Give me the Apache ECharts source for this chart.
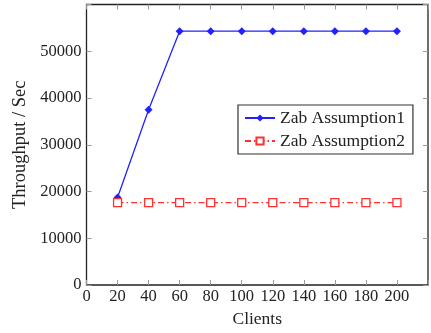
<!DOCTYPE html>
<html><head><meta charset="utf-8">
<script src="https://cdn.jsdelivr.net/npm/echarts@6/dist/echarts.min.js"></script>
<style>html,body{margin:0;padding:0;background:#fff}#c{width:431px;height:333px}</style>
</head><body><div id="c"></div>
<script>
const clients = [20, 40, 60, 80, 100, 120, 140, 160, 180, 200];
const assumption1 = [18700, 37500, 54300, 54300, 54300, 54300, 54300, 54300, 54300, 54300];
const assumption2 = [17600, 17600, 17600, 17600, 17600, 17600, 17600, 17600, 17600, 17600];
const seriesNames = ['Zab Assumption1', 'Zab Assumption2'];
const xTickLabels = [0, 20, 40, 60, 80, 100, 120, 140, 160, 180, 200];
const yTickLabels = [0, 10000, 20000, 30000, 40000, 50000];

const font = 'Liberation Serif';
const chart = echarts.init(document.getElementById('c'));
const pair = (xs, ys) => xs.map((x, i) => [x, ys[i]]);
const tickCommon = {show: true, inside: true, length: 5, lineStyle: {color: '#999', width: 1}};
const noLine = {show: false, onZero: false};
chart.setOption({
  animation: false,
  grid: {left: 86.5, right: 1.5, top: 4.5, bottom: 43, show: true, borderColor: '#222', borderWidth: 1.3, containLabel: false},
  legend: {
    left: 238, top: 105, orient: 'vertical', itemWidth: 30, itemHeight: 9, itemGap: 5,
    padding: [4, 8, 4, 6], borderColor: '#333', borderWidth: 1.2, backgroundColor: '#fff',
    textStyle: {fontFamily: font, fontSize: 17.5, color: '#222'},
    data: seriesNames
  },
  xAxis: [{
    type: 'value', min: 0, max: 220, interval: 20,
    name: 'Clients', nameLocation: 'middle', nameGap: 25,
    nameTextStyle: {fontFamily: font, fontSize: 17.5, color: '#222'},
    axisLine: noLine, axisTick: tickCommon, splitLine: {show: false},
    axisLabel: {fontFamily: font, fontSize: 16.5, color: '#222', margin: 3,
      formatter: v => xTickLabels.includes(v) ? String(v) : ''}
  }, {
    type: 'value', position: 'top', min: 0, max: 220, interval: 20,
    axisLine: noLine, axisTick: tickCommon, axisLabel: {show: false}, splitLine: {show: false}
  }],
  yAxis: [{
    type: 'value', min: 0, max: 60000, interval: 10000,
    name: 'Throughput / Sec', nameLocation: 'middle', nameGap: 56,
    nameTextStyle: {fontFamily: font, fontSize: 18.5, color: '#222', padding: [0, 0, 0, 0]},
    axisLine: noLine, axisTick: tickCommon, splitLine: {show: false},
    axisLabel: {fontFamily: font, fontSize: 16.5, color: '#222', margin: 5,
      formatter: v => yTickLabels.includes(v) ? String(v) : ''}
  }, {
    type: 'value', position: 'right', min: 0, max: 60000, interval: 10000,
    axisLine: noLine, axisTick: tickCommon, axisLabel: {show: false}, splitLine: {show: false}
  }],
  series: [{
    name: seriesNames[0], type: 'line', data: pair(clients, assumption1),
    symbol: 'diamond', symbolSize: 8, showSymbol: true,
    lineStyle: {color: '#2222ff', width: 1.3}, itemStyle: {color: '#2222ff'}
  }, {
    name: seriesNames[1], type: 'line', data: pair(clients, assumption2),
    symbol: 'rect', symbolSize: 8,
    lineStyle: {color: '#ff3030', width: 1.3, type: [6, 3, 1.5, 3]},
    itemStyle: {color: '#fff', borderColor: '#ff3030', borderWidth: 1.3}
  }]
});
</script></body></html>
